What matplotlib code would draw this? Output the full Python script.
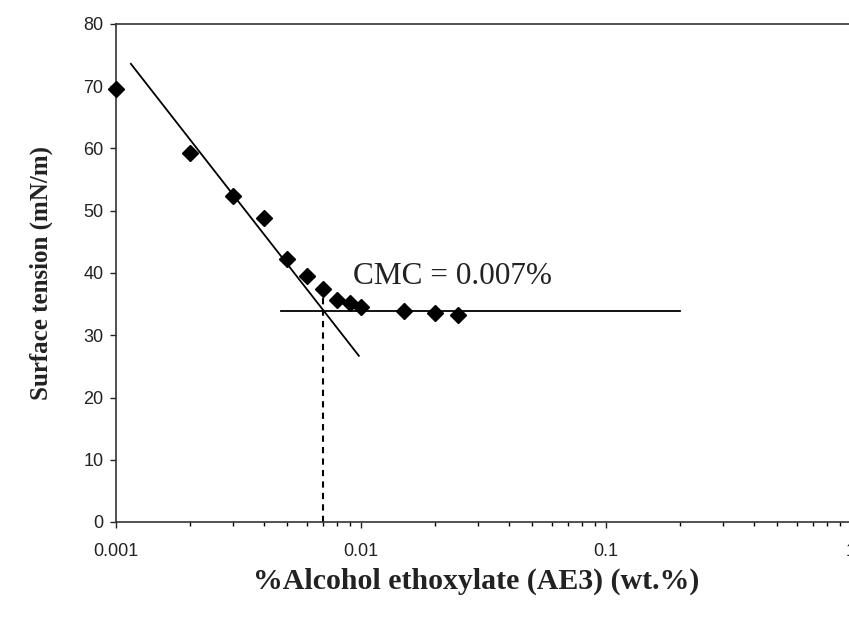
import matplotlib.pyplot as plt
import numpy as np
from matplotlib.ticker import FixedLocator, FixedFormatter, LogLocator, NullFormatter

# measured surface tension vs concentration
conc = [0.001, 0.002, 0.003, 0.004, 0.005, 0.006, 0.007, 0.008, 0.009,
        0.010, 0.015, 0.020, 0.025]
tension = [69.6, 59.3, 52.4, 48.8, 42.3, 39.5, 37.4, 35.6, 35.2,
           34.5, 33.9, 33.6, 33.2]

# fitted lines
slope_x = [0.00115, 0.0098]
slope_y = [73.6, 26.7]
plateau_x = [0.0047, 0.2]
plateau_y = [33.9, 33.9]
cmc = 0.007
cmc_y = 36.0

xticks = [0.001, 0.01, 0.1, 1]
xticklabels = ["0.001", "0.01", "0.1", "1"]
yticks = [0, 10, 20, 30, 40, 50, 60, 70, 80]

fig = plt.figure(figsize=(8.49, 6.21), dpi=100)
ax = fig.add_axes([116 / 849, 1 - 522 / 621, 735 / 849, 498 / 621])

ax.plot(conc, tension, linestyle="none", marker="D", markersize=8,
        color="black", clip_on=False, zorder=5)
ax.plot(slope_x, slope_y, color="black", linewidth=1.3)
ax.plot(plateau_x, plateau_y, color="black", linewidth=1.3)
ax.plot([cmc, cmc], [0, cmc_y], color="black", linewidth=1.5,
        linestyle=(0, (3, 2.5)))

ax.text(0.0093, 38.2, "CMC = 0.007%", family="Liberation Serif",
        fontsize=22.5, color="#222222")

ax.set_xscale("log")
ax.set_xlim(0.001, 1)
ax.set_ylim(0, 80)
ax.xaxis.set_major_locator(FixedLocator(xticks))
ax.xaxis.set_major_formatter(FixedFormatter(xticklabels))
ax.xaxis.set_minor_locator(LogLocator(base=10, subs=np.arange(2, 10)))
ax.xaxis.set_minor_formatter(NullFormatter())
ax.set_yticks(yticks)

ax.tick_params(axis="both", which="major", direction="out", length=4,
               width=1, labelsize=13, colors="#222222")
ax.tick_params(axis="x", which="minor", direction="out", length=3, width=1)
ax.tick_params(axis="x", pad=11)
ax.tick_params(axis="y", pad=5)
for lbl in ax.get_xticklabels() + ax.get_yticklabels():
    lbl.set_family("Liberation Sans")

ax.spines["right"].set_visible(False)
for s in ["left", "bottom", "top"]:
    ax.spines[s].set_linewidth(1.2)
    ax.spines[s].set_color("#333333")

ax.set_xlabel("%Alcohol ethoxylate (AE3) (wt.%)", family="Liberation Serif",
              fontweight="bold", fontsize=21.5, color="#222222")
ax.xaxis.set_label_coords(0.49, -0.092)
ax.set_ylabel("Surface tension (mN/m)", family="Liberation Serif",
              fontweight="bold", fontsize=18, labelpad=22, color="#222222")

plt.savefig("out.png", dpi=100)
